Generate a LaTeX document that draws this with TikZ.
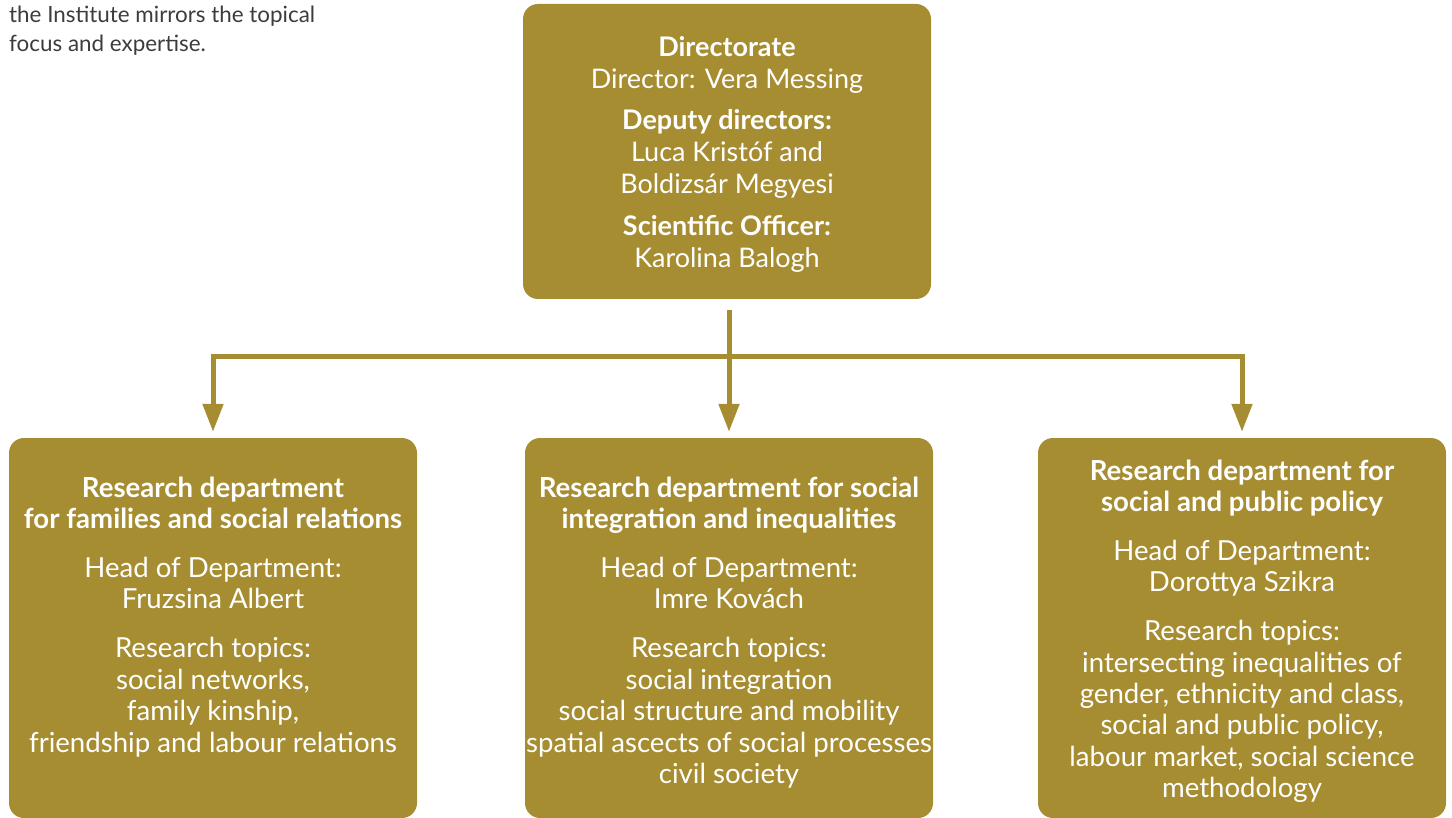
\documentclass[tikz,border=0pt]{standalone}
\usepackage{fontspec}
\setmainfont{Lato}
\usetikzlibrary{arrows.meta}
\definecolor{gold}{RGB}{166,141,49}
\definecolor{capgray}{RGB}{60,60,60}
\begin{document}
\begin{tikzpicture}[x=1pt,y=-1pt,
  box/.style={fill=gold, draw=none, rounded corners=15pt, inner sep=0pt, minimum width=408pt},
  txt/.style={text=white, inner sep=0pt, anchor=base},
  topfont/.style={font=\fontsize{27}{32}\selectfont},
  depfont/.style={font=\fontsize{27.6}{31.4}\selectfont},
  conn/.style={draw=gold, line width=5pt, line join=miter},
  tip/.style={-{Triangle[width=20pt,length=28pt]}},
  tips/.style={{Triangle[width=20pt,length=28pt]}-{Triangle[width=20pt,length=28pt]}},
]
\useasboundingbox (0,0) rectangle (1452,818);

\node[anchor=base west, inner sep=0pt, text=capgray, font=\fontsize{22.4}{29}\selectfont] (cap) at (9,23)
  {\begin{tabular}[t]{@{}l@{}}the Institute mirrors the topical\\ focus and expertise.\end{tabular}};

\node[box, minimum height=295pt] (dir) at (727,151.5) {};
\node[box, minimum height=380pt] (d1) at (213,628) {};
\node[box, minimum height=380pt] (d2) at (729,628) {};
\node[box, minimum height=380pt] (d3) at (1242,628) {};

\node[txt, topfont] (dirt) at (727,57) {\begin{tabular}[t]{@{}c@{}}
  \textbf{Directorate}\\ Director: Vera Messing\\[9pt]
  \textbf{Deputy directors:}\\ Luca Kristóf and\\ Boldizsár Megyesi\\[10pt]
  \textbf{Scientific Officer:}\\ Karolina Balogh\end{tabular}};

\node[txt, depfont] (d1t) at (213,497) {\begin{tabular}[t]{@{}c@{}}
  \textbf{Research department}\\ \textbf{for families and social relations}\\[17.6pt]
  Head of Department:\\ Fruzsina Albert\\[17.6pt]
  Research topics:\\ social networks,\\ family kinship,\\ friendship and labour relations\end{tabular}};

\node[txt, depfont] (d2t) at (729,497) {\begin{tabular}[t]{@{}c@{}}
  \textbf{Research department for social}\\ \textbf{integration and inequalities}\\[17.6pt]
  Head of Department:\\ Imre Kovách\\[17.6pt]
  Research topics:\\ social integration\\ social structure and mobility\\ spatial ascects of social processes\\ civil society\end{tabular}};

\node[txt, depfont] (d3t) at (1242,480) {\begin{tabular}[t]{@{}c@{}}
  \textbf{Research department for}\\ \textbf{social and public policy}\\[17.6pt]
  Head of Department:\\ Dorottya Szikra\\[17.6pt]
  Research topics:\\ intersecting inequalities of\\ gender, ethnicity and class,\\ social and public policy,\\ labour market, social science\\ methodology\end{tabular}};

\coordinate (bus) at (729,357);
\coordinate (topend) at (d2.north |- dir.south);
\draw[conn, tip] ([yshift=-11pt]topend) -- ([yshift=6pt]d2.north);
\draw[conn, tips] ([yshift=6pt]d1.north) |- (bus) -| ([yshift=6pt]d3.north);
\end{tikzpicture}
\end{document}
